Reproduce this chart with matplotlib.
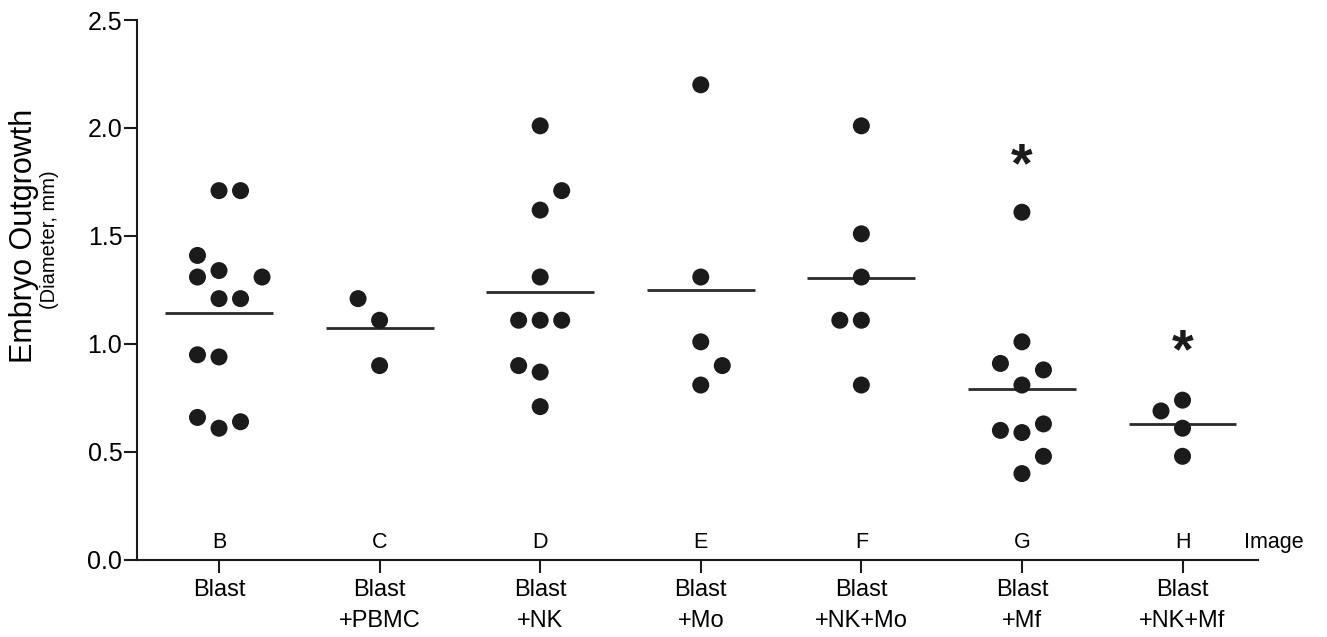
#!/usr/bin/env python3
"""Embryo outgrowth per co-culture condition: column scatter + mean line."""
import matplotlib
matplotlib.use('Agg')
import matplotlib.pyplot as plt

plt.rcParams['font.family'] = ['Liberation Sans', 'DejaVu Sans']

# --- data (diameter, mm) ---
groups = ['Blast', 'Blast\n+PBMC', 'Blast\n+NK', 'Blast\n+Mo',
          'Blast\n+NK+Mo', 'Blast\n+Mf', 'Blast\n+NK+Mf']
image_letters = ['B', 'C', 'D', 'E', 'F', 'G', 'H']

blast = [1.71, 1.71, 1.41, 1.31, 1.34, 1.31, 1.21, 1.21, 0.95, 0.94, 0.66, 0.61, 0.64]
blast_pbmc = [1.21, 1.11, 0.90]
blast_nk = [2.01, 1.71, 1.62, 1.31, 1.11, 1.11, 1.11, 0.90, 0.87, 0.71]
blast_mo = [2.20, 1.31, 1.01, 0.90, 0.81]
blast_nk_mo = [2.01, 1.51, 1.31, 1.11, 1.11, 0.81]
blast_mf = [1.61, 1.01, 0.91, 0.88, 0.81, 0.60, 0.59, 0.63, 0.48, 0.40]
blast_nk_mf = [0.69, 0.74, 0.61, 0.48]

means = [1.144, 1.074, 1.241, 1.25, 1.306, 0.792, 0.630]
# significance marks: height of the asterisk centre (None = no mark)
star_at = [None, None, None, None, None, 1.90, 1.04]

# column-scatter slot for every point (which side of the centre it sits)
slots = [
    [0, 1, -1, -1, 0, 2, 0, 1, -1, 0, -1, 0, 1],
    [-1, 0, 0],
    [0, 1, 0, 0, -1, 0, 1, -1, 0, 0],
    [0, 0, 0, 1, 0],
    [0, 0, 0, -1, 0, 0],
    [0, 0, -1, 1, 0, -1, 0, 1, 1, 0],
    [-1, 0, 0, 0],
]

values = [blast, blast_pbmc, blast_nk, blast_mo, blast_nk_mo, blast_mf, blast_nk_mf]

SLOT_W = 0.134
HALF_LINE = 0.336
INK = '#1b1b1b'
STAR_FS = 40

fig = plt.figure(figsize=(13.27, 6.37), dpi=100)
ax = fig.add_axes([0.1032, 0.1209, 0.8448, 0.8477])

for i, (vals, sl) in enumerate(zip(values, slots)):
    xs = [i + s * SLOT_W for s in sl]
    ax.scatter(xs, vals, s=150, color=INK, edgecolors='none', zorder=3, clip_on=False)
    ax.plot([i - HALF_LINE, i + HALF_LINE], [means[i], means[i]],
            color='#2a2a2a', lw=2.0, zorder=2, solid_capstyle='butt')
    ax.text(i, 0.08, image_letters[i], ha='center', va='center', fontsize=15.5)
    if star_at[i] is not None:
        # the asterisk glyph sits high in its box: anchor on the baseline
        ax.annotate('*', xy=(i, star_at[i]), xytext=(0, -0.57 * STAR_FS),
                    textcoords='offset points', ha='center', va='baseline',
                    fontsize=STAR_FS, fontweight='bold', color=INK)

ax.text(6.38, 0.08, 'Image', ha='left', va='center', fontsize=15.5)

ax.set_xlim(-0.511, 6.47)
ax.set_ylim(0, 2.5)
ax.set_yticks([0, 0.5, 1.0, 1.5, 2.0, 2.5])
ax.set_yticklabels(['0.0', '0.5', '1.0', '1.5', '2.0', '2.5'], fontsize=18)
ax.set_xticks(range(len(groups)))
ax.set_xticklabels(groups, fontsize=17, linespacing=1.55)

for side in ('top', 'right'):
    ax.spines[side].set_visible(False)
for side in ('left', 'bottom'):
    ax.spines[side].set_linewidth(1.5)
    ax.spines[side].set_color(INK)
ax.tick_params(axis='y', length=9.5, width=1.5, pad=1, color=INK)
ax.tick_params(axis='x', length=9.5, width=1.5, pad=4, color=INK)

fig.text(0.018, 0.63, 'Embryo Outgrowth', rotation=90, ha='center', va='center',
         fontsize=22)
fig.text(0.0375, 0.623, '(Diameter, mm)', rotation=90, ha='center', va='center',
         fontsize=14.5)

fig.savefig('out.png', dpi=100)
